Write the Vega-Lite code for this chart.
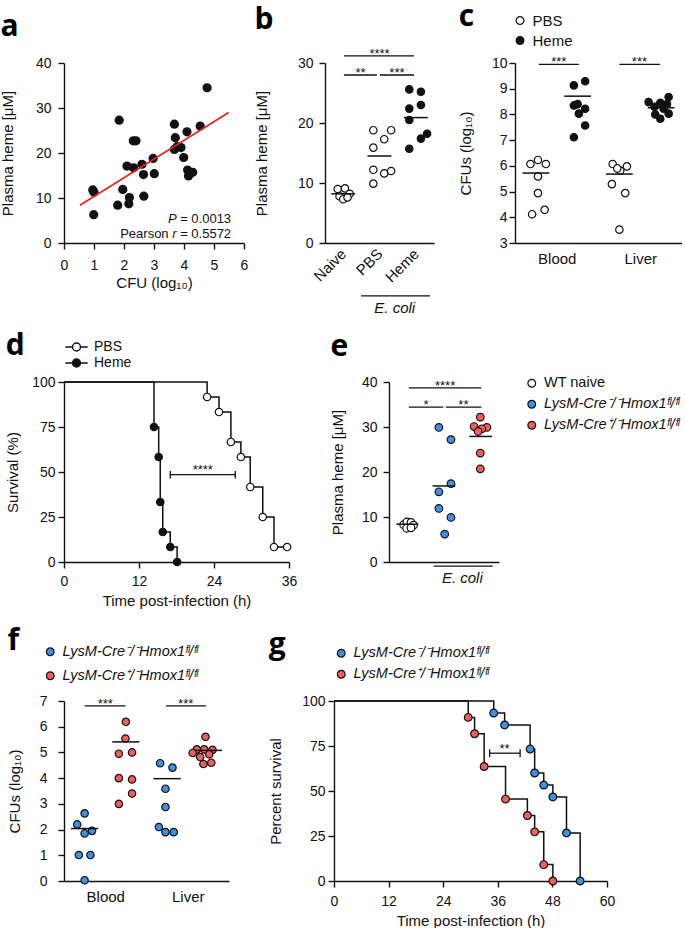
{
  "$schema": "https://vega.github.io/schema/vega-lite/v6.json",
  "background": "white",
  "padding": {"left": 0, "top": 2, "right": 0, "bottom": 0},
  "config": {
    "view": {"stroke": null},
    "font": "Liberation Sans",
    "axis": {"grid": false, "labelOverlap": false, "labelFlush": false, "tickCount": 20, "domainColor": "#111", "domainWidth": 1.4, "tickColor": "#111", "tickWidth": 1.4, "tickSize": 6, "labelColor": "#111", "labelFontSize": 14, "labelFont": "Liberation Sans", "titleFont": "Liberation Sans", "titleFontSize": 15, "titleFontWeight": "normal", "titleColor": "#111", "labelPadding": 3, "titlePadding": 5},
    "legend": {"labelFont": "Liberation Sans", "labelFontSize": 14, "labelColor": "#111", "padding": 0, "symbolStrokeColor": "#111", "symbolStrokeWidth": 1.2, "symbolType": "circle", "symbolSize": 60, "labelOffset": 5},
    "title": {"font": "Open Sans", "fontSize": 30, "fontWeight": "bold", "anchor": "start", "frame": "bounds", "color": "#000", "baseline": "alphabetic"}
  },
  "datasets": {
    "dsurv": [
      {"g": "PBS", "t": 0, "s": 100}, {"g": "PBS", "t": 22.9, "s": 91.7}, {"g": "PBS", "t": 24.8, "s": 83.3}, {"g": "PBS", "t": 26.7, "s": 66.7}, {"g": "PBS", "t": 28.3, "s": 58.3}, {"g": "PBS", "t": 29.8, "s": 41.7}, {"g": "PBS", "t": 31.8, "s": 25}, {"g": "PBS", "t": 33.6, "s": 8.3}, {"g": "PBS", "t": 35.7, "s": 8.3},
      {"g": "Heme", "t": 0, "s": 100}, {"g": "Heme", "t": 14.4, "s": 75}, {"g": "Heme", "t": 15.15, "s": 58.3}, {"g": "Heme", "t": 15.4, "s": 33.3}, {"g": "Heme", "t": 15.8, "s": 16.7}, {"g": "Heme", "t": 17.0, "s": 8.3}, {"g": "Heme", "t": 18.1, "s": 0}
    ],
    "gsurv": [
      {"g": "LysM-Cre⁻/⁻Hmox1ᶠˡ/ᶠˡ", "t": 0, "s": 100}, {"g": "LysM-Cre⁻/⁻Hmox1ᶠˡ/ᶠˡ", "t": 35.1, "s": 93.3}, {"g": "LysM-Cre⁻/⁻Hmox1ᶠˡ/ᶠˡ", "t": 37.5, "s": 86.7}, {"g": "LysM-Cre⁻/⁻Hmox1ᶠˡ/ᶠˡ", "t": 43.1, "s": 73.3}, {"g": "LysM-Cre⁻/⁻Hmox1ᶠˡ/ᶠˡ", "t": 44.1, "s": 60}, {"g": "LysM-Cre⁻/⁻Hmox1ᶠˡ/ᶠˡ", "t": 46.1, "s": 53.3}, {"g": "LysM-Cre⁻/⁻Hmox1ᶠˡ/ᶠˡ", "t": 48.1, "s": 46.7}, {"g": "LysM-Cre⁻/⁻Hmox1ᶠˡ/ᶠˡ", "t": 51.1, "s": 26.7}, {"g": "LysM-Cre⁻/⁻Hmox1ᶠˡ/ᶠˡ", "t": 54.1, "s": 0},
      {"g": "LysM-Cre⁺/⁻Hmox1ᶠˡ/ᶠˡ", "t": 0, "s": 100}, {"g": "LysM-Cre⁺/⁻Hmox1ᶠˡ/ᶠˡ", "t": 29.5, "s": 90.9}, {"g": "LysM-Cre⁺/⁻Hmox1ᶠˡ/ᶠˡ", "t": 30.9, "s": 81.8}, {"g": "LysM-Cre⁺/⁻Hmox1ᶠˡ/ᶠˡ", "t": 33.0, "s": 63.6}, {"g": "LysM-Cre⁺/⁻Hmox1ᶠˡ/ᶠˡ", "t": 37.7, "s": 45.5}, {"g": "LysM-Cre⁺/⁻Hmox1ᶠˡ/ᶠˡ", "t": 42.5, "s": 36.4}, {"g": "LysM-Cre⁺/⁻Hmox1ᶠˡ/ᶠˡ", "t": 44.1, "s": 27.3}, {"g": "LysM-Cre⁺/⁻Hmox1ᶠˡ/ᶠˡ", "t": 46.1, "s": 9.1}, {"g": "LysM-Cre⁺/⁻Hmox1ᶠˡ/ᶠˡ", "t": 48.1, "s": 0}
    ]
  },
  "vconcat": [
    {
      "hconcat": [
        {
          "width": 180, "height": 180,
          "title": {"text": "a", "offset": 14.5},
          "layer": [
            {
              "data": {"values": [
                {"cfu": 4.77, "heme": 34.5}, {"cfu": 1.84, "heme": 27.3}, {"cfu": 3.68, "heme": 26.4}, {"cfu": 4.54, "heme": 26.0}, {"cfu": 4.10, "heme": 24.7}, {"cfu": 3.71, "heme": 23.4}, {"cfu": 2.31, "heme": 22.7}, {"cfu": 2.40, "heme": 22.7}, {"cfu": 3.68, "heme": 20.8}, {"cfu": 3.90, "heme": 21.2}, {"cfu": 3.77, "heme": 21.4}, {"cfu": 3.99, "heme": 19.0}, {"cfu": 2.97, "heme": 18.8}, {"cfu": 2.10, "heme": 17.1}, {"cfu": 2.32, "heme": 16.7}, {"cfu": 2.60, "heme": 17.5}, {"cfu": 2.65, "heme": 15.2}, {"cfu": 3.01, "heme": 15.4}, {"cfu": 4.12, "heme": 16.2}, {"cfu": 4.29, "heme": 15.7}, {"cfu": 4.15, "heme": 14.9}, {"cfu": 0.96, "heme": 11.8}, {"cfu": 1.00, "heme": 11.3}, {"cfu": 1.96, "heme": 11.9}, {"cfu": 2.18, "heme": 10.1}, {"cfu": 2.16, "heme": 8.7}, {"cfu": 1.79, "heme": 8.4}, {"cfu": 2.66, "heme": 10.4}, {"cfu": 0.99, "heme": 6.3}
              ]},
              "mark": {"type": "circle", "size": 85, "color": "#111", "opacity": 1},
              "encoding": {
                "x": {"field": "cfu", "type": "quantitative", "scale": {"domain": [0, 6], "nice": false, "zero": false}, "axis": {"values": [0, 1, 2, 3, 4, 5, 6], "format": "d", "tickCount": 20, "labelPadding": 9, "titlePadding": 3, "title": "CFU (log₁₀)"}},
                "y": {"field": "heme", "type": "quantitative", "scale": {"domain": [0, 40], "nice": false}, "axis": {"values": [0, 10, 20, 30, 40], "format": "d", "tickCount": 20, "labelPadding": 7, "titlePadding": 20, "title": "Plasma heme [μM]"}}
              }
            },
            {
              "data": {"values": [{"cfu": 0.53, "heme": 8.4}, {"cfu": 5.49, "heme": 29.0}]},
              "mark": {"type": "line", "color": "#e3241b", "strokeWidth": 1.6},
              "encoding": {"x": {"field": "cfu", "type": "quantitative"}, "y": {"field": "heme", "type": "quantitative"}}
            },
            {
              "data": {"values": [{"cfu": 5.57, "heme": 5.4, "lbl": "P", "val": "= 0.0013", "pre": ""}, {"cfu": 5.57, "heme": 2.1, "lbl": "r", "val": "= 0.5572", "pre": "Pearson"}]},
              "layer": [
                {"mark": {"type": "text", "align": "right", "baseline": "middle", "fontSize": 13, "color": "#111"}, "encoding": {"x": {"field": "cfu", "type": "quantitative"}, "y": {"field": "heme", "type": "quantitative"}, "text": {"field": "val"}}},
                {"mark": {"type": "text", "align": "right", "baseline": "middle", "fontSize": 13, "fontStyle": "italic", "dx": -54.5, "color": "#111"}, "encoding": {"x": {"field": "cfu", "type": "quantitative"}, "y": {"field": "heme", "type": "quantitative"}, "text": {"field": "lbl"}}},
                {"mark": {"type": "text", "align": "right", "baseline": "middle", "fontSize": 13, "dx": -62.5, "color": "#111"}, "encoding": {"x": {"field": "cfu", "type": "quantitative"}, "y": {"field": "heme", "type": "quantitative"}, "text": {"field": "pre"}}}
              ]
            }
          ]
        },
        {
          "width": 109, "height": 180,
          "title": {"text": "b", "offset": 12.5},
          "layer": [
            {
              "data": {"values": [
                {"x": 0.85, "v": 9.0, "t": "Naive"}, {"x": 1.05, "v": 9.1, "t": "Naive"}, {"x": 1.18, "v": 8.2, "t": "Naive"}, {"x": 0.9, "v": 7.8, "t": "Naive"}, {"x": 1.0, "v": 7.3, "t": "Naive"}, {"x": 1.12, "v": 7.6, "t": "Naive"},
                {"x": 1.83, "v": 18.8, "t": "PBS"}, {"x": 2.32, "v": 18.8, "t": "PBS"}, {"x": 2.13, "v": 17.3, "t": "PBS"}, {"x": 1.83, "v": 15.9, "t": "PBS"}, {"x": 1.83, "v": 12.2, "t": "PBS"}, {"x": 2.13, "v": 11.6, "t": "PBS"}, {"x": 2.32, "v": 12.0, "t": "PBS"}, {"x": 1.83, "v": 9.9, "t": "PBS"},
                {"x": 2.82, "v": 25.6, "t": "Heme"}, {"x": 3.14, "v": 25.2, "t": "Heme"}, {"x": 3.14, "v": 23.0, "t": "Heme"}, {"x": 2.82, "v": 22.4, "t": "Heme"}, {"x": 2.82, "v": 20.5, "t": "Heme"}, {"x": 3.14, "v": 17.4, "t": "Heme"}, {"x": 3.31, "v": 18.2, "t": "Heme"}, {"x": 2.82, "v": 15.7, "t": "Heme"}
              ]},
              "mark": {"type": "circle", "size": 55, "stroke": "#111", "strokeWidth": 1.2, "opacity": 1},
              "encoding": {
                "x": {"field": "x", "type": "quantitative", "scale": {"domain": [0.5, 3.5], "nice": false, "zero": false}, "axis": {"values": [1, 2, 3], "labelExpr": "datum.value == 1 ? 'Naive' : datum.value == 2 ? 'PBS' : 'Heme'", "labelAngle": -45, "labelAlign": "right", "labelBaseline": "middle", "ticks": false, "title": null, "labelPadding": 8, "labelFontSize": 15}},
                "y": {"field": "v", "type": "quantitative", "scale": {"domain": [0, 30], "nice": false}, "axis": {"values": [0, 10, 20, 30], "format": "d", "tickCount": 20, "labelPadding": 6, "titlePadding": 28, "title": "Plasma heme [μM]"}},
                "fill": {"field": "t", "type": "nominal", "scale": {"domain": ["Naive", "PBS", "Heme"], "range": ["white", "white", "#111"]}, "legend": null}
              }
            },
            {
              "data": {"values": [{"x1": 0.67, "x2": 1.33, "v": 8.2}, {"x1": 1.67, "x2": 2.33, "v": 14.5}, {"x1": 2.67, "x2": 3.33, "v": 20.9}]},
              "mark": {"type": "rule", "color": "#111", "strokeWidth": 1.5},
              "encoding": {"x": {"field": "x1", "type": "quantitative"}, "x2": {"field": "x2"}, "y": {"field": "v", "type": "quantitative"}}
            },
            {
              "data": {"values": [{"x1": 1.02, "x2": 2.95, "v": 31.2, "xm": 2.0, "s": "****"}, {"x1": 1.02, "x2": 1.93, "v": 28.0, "xm": 1.48, "s": "**"}, {"x1": 2.01, "x2": 2.95, "v": 28.0, "xm": 2.48, "s": "***"}]},
              "layer": [
                {"mark": {"type": "rule", "color": "#111", "strokeWidth": 1.3}, "encoding": {"x": {"field": "x1", "type": "quantitative"}, "x2": {"field": "x2"}, "y": {"field": "v", "type": "quantitative"}}},
                {"mark": {"type": "text", "baseline": "alphabetic", "fontSize": 13, "dy": 2, "color": "#111"}, "encoding": {"x": {"field": "xm", "type": "quantitative"}, "y": {"field": "v", "type": "quantitative"}, "text": {"field": "s"}}}
              ]
            },
            {
              "data": {"values": [{"x1": 1.49, "x2": 3.39, "v": -8.8, "xm": 2.42, "tv": -10.9, "s": "E. coli"}]},
              "layer": [
                {"mark": {"type": "rule", "color": "#111", "strokeWidth": 1.3}, "encoding": {"x": {"field": "x1", "type": "quantitative"}, "x2": {"field": "x2"}, "y": {"field": "v", "type": "quantitative"}}},
                {"mark": {"type": "text", "baseline": "middle", "fontSize": 15, "fontStyle": "italic", "color": "#111"}, "encoding": {"x": {"field": "xm", "type": "quantitative"}, "y": {"field": "tv", "type": "quantitative"}, "text": {"field": "s"}}}
              ]
            }
          ]
        },
        {
          "width": 167, "height": 180,
          "title": {"text": "c", "offset": -19},
          "layer": [
            {
              "data": {"values": [
                {"x": 0.87, "v": 6.07, "t": "PBS"}, {"x": 1.05, "v": 6.23, "t": "PBS"}, {"x": 1.24, "v": 6.07, "t": "PBS"}, {"x": 1.05, "v": 5.59, "t": "PBS"}, {"x": 1.05, "v": 4.94, "t": "PBS"}, {"x": 0.91, "v": 4.12, "t": "PBS"}, {"x": 1.21, "v": 4.29, "t": "PBS"},
                {"x": 1.91, "v": 9.13, "t": "Heme"}, {"x": 2.18, "v": 9.29, "t": "Heme"}, {"x": 1.91, "v": 8.35, "t": "Heme"}, {"x": 2.18, "v": 8.22, "t": "Heme"}, {"x": 2.03, "v": 8.03, "t": "Heme"}, {"x": 2.18, "v": 7.57, "t": "Heme"}, {"x": 1.91, "v": 7.11, "t": "Heme"}, {"x": 2.0, "v": 8.4, "t": "Heme"},
                {"x": 2.84, "v": 6.07, "t": "PBS"}, {"x": 3.18, "v": 5.98, "t": "PBS"}, {"x": 3.02, "v": 5.82, "t": "PBS"}, {"x": 2.82, "v": 5.29, "t": "PBS"}, {"x": 3.14, "v": 4.94, "t": "PBS"}, {"x": 3.0, "v": 3.52, "t": "PBS"}, {"x": 2.95, "v": 5.9, "t": "PBS"},
                {"x": 3.7, "v": 8.48, "t": "Heme"}, {"x": 3.98, "v": 8.45, "t": "Heme"}, {"x": 4.18, "v": 8.68, "t": "Heme"}, {"x": 3.84, "v": 8.3, "t": "Heme"}, {"x": 4.06, "v": 8.22, "t": "Heme"}, {"x": 4.18, "v": 8.03, "t": "Heme"}, {"x": 3.98, "v": 7.83, "t": "Heme"}, {"x": 3.86, "v": 8.0, "t": "Heme"}, {"x": 4.14, "v": 8.4, "t": "Heme"}
              ]},
              "mark": {"type": "circle", "size": 55, "stroke": "#111", "strokeWidth": 1.2, "opacity": 1},
              "encoding": {
                "x": {"field": "x", "type": "quantitative", "scale": {"domain": [0.5, 4.5], "nice": false, "zero": false}, "axis": {"values": [1.5, 3.5], "labelExpr": "datum.value < 2 ? 'Blood' : 'Liver'", "ticks": false, "title": null, "labelPadding": 8, "labelFontSize": 15}},
                "y": {"field": "v", "type": "quantitative", "scale": {"domain": [3, 10], "nice": false, "zero": false}, "axis": {"values": [3, 4, 5, 6, 7, 8, 9, 10], "format": "d", "tickCount": 20, "labelPadding": 2, "titlePadding": 17.7, "title": "CFUs (log₁₀)"}},
                "fill": {"field": "t", "type": "nominal", "scale": {"domain": ["PBS", "Heme"], "range": ["white", "#111"]}, "legend": {"orient": "none", "legendX": -2.5, "legendY": -50, "rowPadding": 4, "labelFontSize": 15, "title": null}}
              }
            },
            {
              "data": {"values": [{"x1": 0.68, "x2": 1.32, "v": 5.72}, {"x1": 1.68, "x2": 2.32, "v": 8.71}, {"x1": 2.68, "x2": 3.32, "v": 5.68}, {"x1": 3.68, "x2": 4.32, "v": 8.26}]},
              "mark": {"type": "rule", "color": "#111", "strokeWidth": 1.5},
              "encoding": {"x": {"field": "x1", "type": "quantitative"}, "x2": {"field": "x2"}, "y": {"field": "v", "type": "quantitative"}}
            },
            {
              "data": {"values": [{"x1": 1.07, "x2": 2.03, "v": 9.95, "xm": 1.55, "s": "***"}, {"x1": 3.0, "x2": 3.97, "v": 9.95, "xm": 3.48, "s": "***"}]},
              "layer": [
                {"mark": {"type": "rule", "color": "#111", "strokeWidth": 1.3}, "encoding": {"x": {"field": "x1", "type": "quantitative"}, "x2": {"field": "x2"}, "y": {"field": "v", "type": "quantitative"}}},
                {"mark": {"type": "text", "baseline": "alphabetic", "fontSize": 13, "dy": 2, "color": "#111"}, "encoding": {"x": {"field": "xm", "type": "quantitative"}, "y": {"field": "v", "type": "quantitative"}, "text": {"field": "s"}}}
              ]
            }
          ]
        }
      ],
      "spacing": 81,
      "bounds": "flush",
      "resolve": {"scale": {"fill": "independent"}, "legend": {"fill": "independent"}}
    },
    {
      "hconcat": [
        {
          "width": 225, "height": 180,
          "title": {"text": "d", "offset": -22.5},
          "layer": [
            {
              "data": {"name": "dsurv"},
              "mark": {"type": "line", "interpolate": "step-after", "color": "#111", "strokeWidth": 1.5},
              "encoding": {
                "x": {"field": "t", "type": "quantitative", "scale": {"domain": [0, 36], "nice": false}, "axis": {"values": [0, 12, 24, 36], "format": "d", "labelPadding": 6, "title": "Time post-infection (h)"}},
                "y": {"field": "s", "type": "quantitative", "scale": {"domain": [0, 100], "nice": false}, "axis": {"values": [0, 25, 50, 75, 100], "format": "d", "labelPadding": 3, "titlePadding": 11, "title": "Survival (%)"}},
                "detail": {"field": "g", "type": "nominal"}
              }
            },
            {
              "data": {"name": "dsurv"},
              "transform": [{"filter": "datum.t > 0"}],
              "mark": {"type": "circle", "size": 55, "stroke": "#111", "strokeWidth": 1.2, "opacity": 1},
              "encoding": {
                "x": {"field": "t", "type": "quantitative"},
                "y": {"field": "s", "type": "quantitative"},
                "fill": {"field": "g", "type": "nominal", "scale": {"domain": ["PBS", "Heme"], "range": ["white", "#111"]}, "legend": {"orient": "none", "legendX": 3.5, "legendY": -44, "rowPadding": 0, "symbolType": "M-1.4,0H-0.5M0.5,0H1.4M0.5,0A0.5,0.5,0,1,1,-0.5,0A0.5,0.5,0,1,1,0.5,0Z", "symbolSize": 256, "symbolStrokeWidth": 1.4, "labelOffset": 8.5, "labelFontSize": 14, "title": null}}
              }
            },
            {
              "data": {"values": [{"x1": 17.0, "x2": 27.4, "y1": 48.5, "y2": 48.5}, {"x1": 17.0, "x2": 17.0, "y1": 46.4, "y2": 50.6}, {"x1": 27.4, "x2": 27.4, "y1": 46.4, "y2": 50.6}]},
              "mark": {"type": "rule", "color": "#111", "strokeWidth": 1.3},
              "encoding": {"x": {"field": "x1", "type": "quantitative"}, "x2": {"field": "x2"}, "y": {"field": "y1", "type": "quantitative"}, "y2": {"field": "y2"}}
            },
            {
              "data": {"values": [{"xm": 22.2, "v": 50.0, "s": "****"}]},
              "mark": {"type": "text", "baseline": "alphabetic", "fontSize": 13, "dy": 2, "color": "#111"},
              "encoding": {"x": {"field": "xm", "type": "quantitative"}, "y": {"field": "v", "type": "quantitative"}, "text": {"field": "s"}}
            }
          ]
        },
        {
          "width": 110, "height": 180,
          "title": {"text": "e", "offset": 13.5},
          "layer": [
            {
              "data": {"values": [
                {"x": 0.9, "v": 8.3, "g": "WT naive"}, {"x": 0.99, "v": 8.9, "g": "WT naive"}, {"x": 1.1, "v": 8.8, "g": "WT naive"}, {"x": 1.17, "v": 8.2, "g": "WT naive"}, {"x": 0.98, "v": 7.5, "g": "WT naive"}, {"x": 1.1, "v": 7.6, "g": "WT naive"},
                {"x": 1.86, "v": 29.9, "g": "LysM-Cre⁻/⁻Hmox1ᶠˡ/ᶠˡ"}, {"x": 2.19, "v": 27.2, "g": "LysM-Cre⁻/⁻Hmox1ᶠˡ/ᶠˡ"}, {"x": 2.19, "v": 17.4, "g": "LysM-Cre⁻/⁻Hmox1ᶠˡ/ᶠˡ"}, {"x": 1.86, "v": 15.6, "g": "LysM-Cre⁻/⁻Hmox1ᶠˡ/ᶠˡ"}, {"x": 1.86, "v": 11.9, "g": "LysM-Cre⁻/⁻Hmox1ᶠˡ/ᶠˡ"}, {"x": 2.19, "v": 9.9, "g": "LysM-Cre⁻/⁻Hmox1ᶠˡ/ᶠˡ"}, {"x": 2.02, "v": 6.2, "g": "LysM-Cre⁻/⁻Hmox1ᶠˡ/ᶠˡ"},
                {"x": 2.99, "v": 32.2, "g": "LysM-Cre⁺/⁻Hmox1ᶠˡ/ᶠˡ"}, {"x": 2.82, "v": 30.1, "g": "LysM-Cre⁺/⁻Hmox1ᶠˡ/ᶠˡ"}, {"x": 3.17, "v": 29.9, "g": "LysM-Cre⁺/⁻Hmox1ᶠˡ/ᶠˡ"}, {"x": 3.03, "v": 29.6, "g": "LysM-Cre⁺/⁻Hmox1ᶠˡ/ᶠˡ"}, {"x": 2.93, "v": 29.0, "g": "LysM-Cre⁺/⁻Hmox1ᶠˡ/ᶠˡ"}, {"x": 2.99, "v": 24.2, "g": "LysM-Cre⁺/⁻Hmox1ᶠˡ/ᶠˡ"}, {"x": 2.99, "v": 20.7, "g": "LysM-Cre⁺/⁻Hmox1ᶠˡ/ᶠˡ"}
              ]},
              "mark": {"type": "circle", "size": 58, "stroke": "#111", "strokeWidth": 1.2, "opacity": 1},
              "encoding": {
                "x": {"field": "x", "type": "quantitative", "scale": {"domain": [0.5, 3.5], "nice": false, "zero": false}, "axis": {"values": [1, 2, 3], "labels": false, "ticks": false, "title": null}},
                "y": {"field": "v", "type": "quantitative", "scale": {"domain": [0, 40], "nice": false}, "axis": {"values": [0, 10, 20, 30, 40], "format": "d", "labelPadding": 6, "titlePadding": 16, "title": "Plasma heme [μM]"}},
                "fill": {"field": "g", "type": "nominal", "scale": {"domain": ["WT naive", "LysM-Cre⁻/⁻Hmox1ᶠˡ/ᶠˡ", "LysM-Cre⁺/⁻Hmox1ᶠˡ/ᶠˡ"], "range": ["white", "#3f8fe3", "#ee5e5b"]}, "legend": {"orient": "none", "legendX": 135.5, "legendY": -6, "rowPadding": 6, "labelFontSize": 14.5, "title": null, "labelFontStyle": {"expr": "datum.label == 'WT naive' ? 'normal' : 'italic'"}}}
              }
            },
            {
              "data": {"values": [{"x1": 0.7, "x2": 1.3, "v": 8.4}, {"x1": 1.69, "x2": 2.31, "v": 16.9}, {"x1": 2.69, "x2": 3.31, "v": 27.9}]},
              "mark": {"type": "rule", "color": "#111", "strokeWidth": 1.5},
              "encoding": {"x": {"field": "x1", "type": "quantitative"}, "x2": {"field": "x2"}, "y": {"field": "v", "type": "quantitative"}}
            },
            {
              "data": {"values": [{"x1": 1.04, "x2": 3.02, "v": 38.7, "xm": 2.03, "s": "****"}, {"x1": 1.04, "x2": 1.98, "v": 34.4, "xm": 1.51, "s": "*"}, {"x1": 2.05, "x2": 3.02, "v": 34.4, "xm": 2.53, "s": "**"}]},
              "layer": [
                {"mark": {"type": "rule", "color": "#111", "strokeWidth": 1.3}, "encoding": {"x": {"field": "x1", "type": "quantitative"}, "x2": {"field": "x2"}, "y": {"field": "v", "type": "quantitative"}}},
                {"mark": {"type": "text", "baseline": "alphabetic", "fontSize": 13, "dy": 2, "color": "#111"}, "encoding": {"x": {"field": "xm", "type": "quantitative"}, "y": {"field": "v", "type": "quantitative"}, "text": {"field": "s"}}}
              ]
            },
            {
              "data": {"values": [{"x1": 1.72, "x2": 3.33, "v": -0.9, "xm": 2.5, "tv": -3.6, "s": "E. coli"}]},
              "layer": [
                {"mark": {"type": "rule", "color": "#111", "strokeWidth": 1.3}, "encoding": {"x": {"field": "x1", "type": "quantitative"}, "x2": {"field": "x2"}, "y": {"field": "v", "type": "quantitative"}}},
                {"mark": {"type": "text", "baseline": "middle", "fontSize": 15, "fontStyle": "italic", "color": "#111"}, "encoding": {"x": {"field": "xm", "type": "quantitative"}, "y": {"field": "tv", "type": "quantitative"}, "text": {"field": "s"}}}
              ]
            }
          ]
        }
      ],
      "spacing": 100,
      "bounds": "flush",
      "resolve": {"scale": {"fill": "independent"}, "legend": {"fill": "independent"}}
    },
    {
      "hconcat": [
        {
          "width": 165, "height": 180,
          "title": {"text": "f", "offset": -11.5},
          "layer": [
            {
              "data": {"values": [
                {"x": 1.0, "v": 2.63, "g": "LysM-Cre⁻/⁻Hmox1ᶠˡ/ᶠˡ"}, {"x": 0.82, "v": 2.2, "g": "LysM-Cre⁻/⁻Hmox1ᶠˡ/ᶠˡ"}, {"x": 1.18, "v": 1.95, "g": "LysM-Cre⁻/⁻Hmox1ᶠˡ/ᶠˡ"}, {"x": 1.0, "v": 1.85, "g": "LysM-Cre⁻/⁻Hmox1ᶠˡ/ᶠˡ"}, {"x": 0.86, "v": 1.01, "g": "LysM-Cre⁻/⁻Hmox1ᶠˡ/ᶠˡ"}, {"x": 1.14, "v": 1.01, "g": "LysM-Cre⁻/⁻Hmox1ᶠˡ/ᶠˡ"}, {"x": 1.0, "v": 0.03, "g": "LysM-Cre⁻/⁻Hmox1ᶠˡ/ᶠˡ"},
                {"x": 2.0, "v": 6.19, "g": "LysM-Cre⁺/⁻Hmox1ᶠˡ/ᶠˡ"}, {"x": 1.99, "v": 5.54, "g": "LysM-Cre⁺/⁻Hmox1ᶠˡ/ᶠˡ"}, {"x": 1.83, "v": 4.95, "g": "LysM-Cre⁺/⁻Hmox1ᶠˡ/ᶠˡ"}, {"x": 2.15, "v": 5.0, "g": "LysM-Cre⁺/⁻Hmox1ᶠˡ/ᶠˡ"}, {"x": 1.83, "v": 4.0, "g": "LysM-Cre⁺/⁻Hmox1ᶠˡ/ᶠˡ"}, {"x": 2.15, "v": 3.95, "g": "LysM-Cre⁺/⁻Hmox1ᶠˡ/ᶠˡ"}, {"x": 2.15, "v": 3.4, "g": "LysM-Cre⁺/⁻Hmox1ᶠˡ/ᶠˡ"}, {"x": 1.83, "v": 3.0, "g": "LysM-Cre⁺/⁻Hmox1ᶠˡ/ᶠˡ"},
                {"x": 2.83, "v": 4.58, "g": "LysM-Cre⁻/⁻Hmox1ᶠˡ/ᶠˡ"}, {"x": 3.13, "v": 4.41, "g": "LysM-Cre⁻/⁻Hmox1ᶠˡ/ᶠˡ"}, {"x": 2.96, "v": 3.59, "g": "LysM-Cre⁻/⁻Hmox1ᶠˡ/ᶠˡ"}, {"x": 2.96, "v": 2.88, "g": "LysM-Cre⁻/⁻Hmox1ᶠˡ/ᶠˡ"}, {"x": 2.8, "v": 2.1, "g": "LysM-Cre⁻/⁻Hmox1ᶠˡ/ᶠˡ"}, {"x": 2.96, "v": 1.9, "g": "LysM-Cre⁻/⁻Hmox1ᶠˡ/ᶠˡ"}, {"x": 3.16, "v": 1.9, "g": "LysM-Cre⁻/⁻Hmox1ᶠˡ/ᶠˡ"},
                {"x": 3.93, "v": 5.61, "g": "LysM-Cre⁺/⁻Hmox1ᶠˡ/ᶠˡ"}, {"x": 3.72, "v": 5.12, "g": "LysM-Cre⁺/⁻Hmox1ᶠˡ/ᶠˡ"}, {"x": 3.9, "v": 5.12, "g": "LysM-Cre⁺/⁻Hmox1ᶠˡ/ᶠˡ"}, {"x": 4.1, "v": 5.1, "g": "LysM-Cre⁺/⁻Hmox1ᶠˡ/ᶠˡ"}, {"x": 3.62, "v": 4.98, "g": "LysM-Cre⁺/⁻Hmox1ᶠˡ/ᶠˡ"}, {"x": 4.02, "v": 4.93, "g": "LysM-Cre⁺/⁻Hmox1ᶠˡ/ᶠˡ"}, {"x": 3.8, "v": 4.82, "g": "LysM-Cre⁺/⁻Hmox1ᶠˡ/ᶠˡ"}, {"x": 4.07, "v": 4.6, "g": "LysM-Cre⁺/⁻Hmox1ᶠˡ/ᶠˡ"}, {"x": 3.88, "v": 4.55, "g": "LysM-Cre⁺/⁻Hmox1ᶠˡ/ᶠˡ"}
              ]},
              "mark": {"type": "circle", "size": 55, "stroke": "#111", "strokeWidth": 1.2, "opacity": 1},
              "encoding": {
                "x": {"field": "x", "type": "quantitative", "scale": {"domain": [0.5, 4.5], "nice": false, "zero": false}, "axis": {"values": [1.5, 3.5], "labelExpr": "datum.value < 2 ? 'Blood' : 'Liver'", "ticks": false, "title": null, "labelPadding": 8, "labelFontSize": 15}},
                "y": {"field": "v", "type": "quantitative", "scale": {"domain": [0, 7], "nice": false}, "axis": {"values": [0, 1, 2, 3, 4, 5, 6, 7], "format": "d", "tickCount": 20, "labelPadding": 11, "titlePadding": 16.7, "title": "CFUs (log₁₀)"}},
                "fill": {"field": "g", "type": "nominal", "scale": {"domain": ["LysM-Cre⁻/⁻Hmox1ᶠˡ/ᶠˡ", "LysM-Cre⁺/⁻Hmox1ᶠˡ/ᶠˡ"], "range": ["#3f8fe3", "#ee5e5b"]}, "legend": {"orient": "none", "legendX": -21, "legendY": -56.5, "rowPadding": 9, "labelFontSize": 14.5, "labelFontStyle": "italic", "title": null}}
              }
            },
            {
              "data": {"values": [{"x1": 0.67, "x2": 1.33, "v": 2.04}, {"x1": 1.67, "x2": 2.33, "v": 5.41}, {"x1": 2.67, "x2": 3.33, "v": 3.98}, {"x1": 3.67, "x2": 4.33, "v": 5.08}]},
              "mark": {"type": "rule", "color": "#111", "strokeWidth": 1.5},
              "encoding": {"x": {"field": "x1", "type": "quantitative"}, "x2": {"field": "x2"}, "y": {"field": "v", "type": "quantitative"}}
            },
            {
              "data": {"values": [{"x1": 1.0, "x2": 1.99, "v": 6.81, "xm": 1.5, "s": "***"}, {"x1": 2.97, "x2": 3.94, "v": 6.81, "xm": 3.45, "s": "***"}]},
              "layer": [
                {"mark": {"type": "rule", "color": "#111", "strokeWidth": 1.3}, "encoding": {"x": {"field": "x1", "type": "quantitative"}, "x2": {"field": "x2"}, "y": {"field": "v", "type": "quantitative"}}},
                {"mark": {"type": "text", "baseline": "alphabetic", "fontSize": 13, "dy": 2, "color": "#111"}, "encoding": {"x": {"field": "xm", "type": "quantitative"}, "y": {"field": "v", "type": "quantitative"}, "text": {"field": "s"}}}
              ]
            }
          ]
        },
        {
          "width": 273, "height": 180,
          "title": {"text": "g", "offset": -14},
          "layer": [
            {
              "data": {"name": "gsurv"},
              "mark": {"type": "line", "interpolate": "step-after", "color": "#111", "strokeWidth": 1.5},
              "encoding": {
                "x": {"field": "t", "type": "quantitative", "scale": {"domain": [0, 60], "nice": false}, "axis": {"values": [0, 12, 24, 36, 48, 60], "format": "d", "labelPadding": 7, "title": "Time post-infection (h)"}},
                "y": {"field": "s", "type": "quantitative", "scale": {"domain": [0, 100], "nice": false}, "axis": {"values": [0, 25, 50, 75, 100], "format": "d", "labelPadding": 3, "titlePadding": 18, "title": "Percent survival"}},
                "detail": {"field": "g", "type": "nominal"}
              }
            },
            {
              "data": {"name": "gsurv"},
              "transform": [{"filter": "datum.t > 0"}],
              "mark": {"type": "circle", "size": 60, "stroke": "#111", "strokeWidth": 1.2, "opacity": 1},
              "encoding": {
                "x": {"field": "t", "type": "quantitative"},
                "y": {"field": "s", "type": "quantitative"},
                "fill": {"field": "g", "type": "nominal", "scale": {"domain": ["LysM-Cre⁻/⁻Hmox1ᶠˡ/ᶠˡ", "LysM-Cre⁺/⁻Hmox1ᶠˡ/ᶠˡ"], "range": ["#3f8fe3", "#ee5e5b"]}, "legend": {"orient": "none", "legendX": 0, "legendY": -55, "rowPadding": 6, "labelFontSize": 14.5, "labelFontStyle": "italic", "title": null}}
              }
            },
            {
              "data": {"values": [{"x1": 34.2, "x2": 40.9, "y1": 71, "y2": 71}, {"x1": 34.2, "x2": 34.2, "y1": 68.8, "y2": 73.2}, {"x1": 40.9, "x2": 40.9, "y1": 68.8, "y2": 73.2}]},
              "mark": {"type": "rule", "color": "#111", "strokeWidth": 1.3},
              "encoding": {"x": {"field": "x1", "type": "quantitative"}, "x2": {"field": "x2"}, "y": {"field": "y1", "type": "quantitative"}, "y2": {"field": "y2"}}
            },
            {
              "data": {"values": [{"xm": 37.5, "v": 72.5, "s": "**"}]},
              "mark": {"type": "text", "baseline": "alphabetic", "fontSize": 13, "dy": 2, "color": "#111"},
              "encoding": {"x": {"field": "xm", "type": "quantitative"}, "y": {"field": "v", "type": "quantitative"}, "text": {"field": "s"}}
            }
          ]
        }
      ],
      "spacing": 105,
      "bounds": "flush",
      "resolve": {"scale": {"fill": "independent"}, "legend": {"fill": "independent"}}
    }
  ],
  "spacing": 319,
  "bounds": "flush",
  "resolve": {"scale": {"fill": "independent"}, "legend": {"fill": "independent"}}
}
